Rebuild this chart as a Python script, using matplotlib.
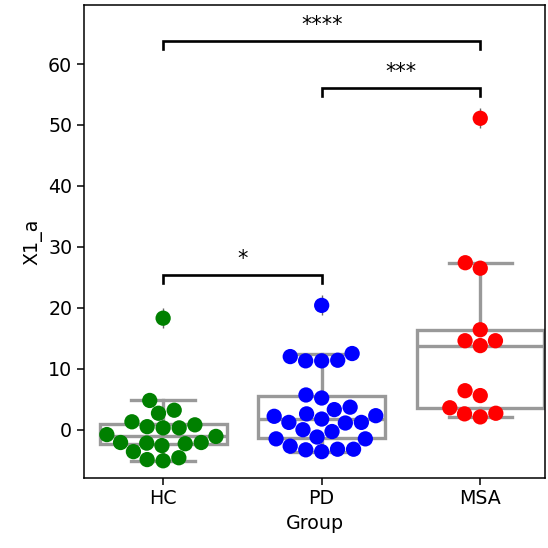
import matplotlib
matplotlib.use("Agg")
import matplotlib.pyplot as plt
import seaborn as sns
import pandas as pd
import numpy as np

groups = ["HC", "PD", "MSA"]
colors = ["green", "blue", "red"]
hc = [18.3, 4.8, 2.7, 3.2, 0.8, 0.3, 0.3, 0.5, 1.3, -0.8, -1.1,
      -2.1, -2.2, -2.6, -2.3, -2.1, -3.6, -4.9, -5.1, -4.6]
pd_vals = [20.4, 12.0, 11.3, 11.3, 11.4, 12.5, 5.7, 5.2, 3.3, 3.7,
           2.3, 2.2, 1.2, 1.75, 1.2, 2.6, 1.1, 0.0, -0.3, -1.5, -1.2, -1.5,
           -2.7, -3.3, -3.6, -3.2, -3.2]
msa = [51.1, 27.4, 26.5, 16.4, 14.6, 13.8, 14.6, 6.4, 5.6, 3.6, 2.6, 2.1, 2.7]
comparisons = [("HC", "PD", "*"), ("PD", "MSA", "***"), ("HC", "MSA", "****")]
bracket_y = [24.0, 54.7, 62.4]
ylabel = "X1_a"
xlabel = "Group"

values = {"HC": hc, "PD": pd_vals, "MSA": msa}
df = pd.DataFrame({"Group": [g for g in groups for _ in values[g]],
                   "X1_a": [v for g in groups for v in values[g]]})

fig = plt.figure(figsize=(5.48, 5.48), dpi=100)
ax = fig.add_axes([0.153, 0.128, 0.842, 0.863])

bp = ax.boxplot([values[g] for g in groups], positions=range(3), widths=0.8,
                patch_artist=True, whis=1.5,
                boxprops=dict(facecolor="none", edgecolor="#999999", linewidth=2.4),
                medianprops=dict(color="#999999", linewidth=2.4),
                whiskerprops=dict(color="#999999", linewidth=2.4),
                capprops=dict(color="#999999", linewidth=2.4),
                flierprops=dict(marker="|", markeredgecolor="#666666", markersize=15,
                                markeredgewidth=1.0), zorder=1)

sns.swarmplot(data=df, x="Group", y="X1_a", hue="Group", palette=colors,
              order=groups, size=11, ax=ax, legend=False, zorder=3)

for (a, b, star), y in zip(comparisons, bracket_y):
    xa, xb = groups.index(a), groups.index(b)
    h = 1.4
    ax.plot([xa, xa, xb, xb], [y, y + h, y + h, y], color="black", lw=1.9,
            zorder=4, solid_joinstyle="miter")
    ax.text((xa + xb) / 2, y + h + 1.6, star, ha="center", va="baseline",
            fontsize=15)

ax.set_xlim(-0.5, 2.41)
ax.set_ylim(-7.9, 69.7)
ax.set_xticks(range(3))
ax.set_xticklabels(groups)
ax.set_yticks([0, 10, 20, 30, 40, 50, 60])
ax.tick_params(labelsize=13.7, width=1.1, length=4.8)
for s in ax.spines.values():
    s.set_linewidth(1.1)
ax.set_xlabel(xlabel, fontsize=13.7)
ax.set_ylabel(ylabel, fontsize=13.7)
fig.savefig("out.png", dpi=100)
